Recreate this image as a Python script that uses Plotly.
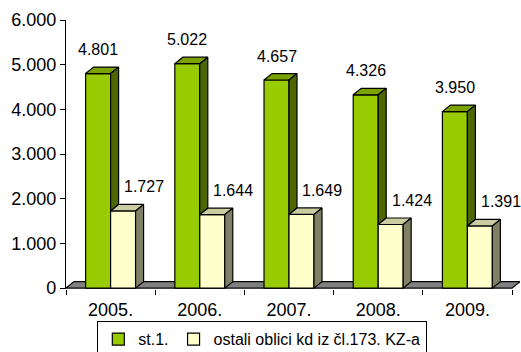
import plotly.graph_objects as go

# Data
years = ["2005.", "2006.", "2007.", "2008.", "2009."]
st1 = [4801, 5022, 4657, 4326, 3950]
ostali = [1727, 1644, 1649, 1424, 1391]
series_names = ["st.1.", "ostali oblici kd iz čl.173. KZ-a"]
y_ticks = [0, 1000, 2000, 3000, 4000, 5000, 6000]

# Styling / geometry of the pseudo-3D bars
FONT = "Liberation Sans, Arial, sans-serif"
GREEN = ("#99CC00", "#7AA300", "#4D6600")      # front, top, side
YELLOW = ("#FFFFCC", "#CCCCA3", "#808066")
FLOOR = "#808080"
BAR_W = 0.28          # width of one bar, in category units
DX = 0.0897           # depth offset along x (category units)
DY = 145              # depth offset along y (value units)
OUTLINE = dict(color="black", width=1.2)


def fmt(v):
    return f"{v:,}".replace(",", ".")


idx = list(range(len(years)))
fig = go.Figure()

# Front faces
fig.add_trace(go.Bar(x=idx, y=st1, width=BAR_W, offset=-BAR_W, name=series_names[0],
                     marker=dict(color=GREEN[0], line=OUTLINE), hoverinfo="skip"))
fig.add_trace(go.Bar(x=idx, y=ostali, width=BAR_W, offset=0, name=series_names[1],
                     marker=dict(color=YELLOW[0], line=OUTLINE), hoverinfo="skip"))


def polys(faces):
    xs, ys = [], []
    for pts in faces:
        for px, py in pts:
            xs.append(px)
            ys.append(py)
        xs.append(pts[0][0])
        ys.append(pts[0][1])
        xs.append(None)
        ys.append(None)
    return xs, ys


def top_face(xl, h):
    xr = xl + BAR_W
    return [(xl, h), (xr, h), (xr + DX, h + DY), (xl + DX, h + DY)]


def side_face(xr, base, h):
    return [(xr, base), (xr, h), (xr + DX, h + DY), (xr + DX, base + DY)]


g_top = [top_face(i - BAR_W, v) for i, v in zip(idx, st1)]
# only the part of the green side that rises above the neighbouring yellow bar
g_side = [side_face(i, o, v) for i, v, o in zip(idx, st1, ostali)]
y_top = [top_face(i, v) for i, v in zip(idx, ostali)]
y_side = [side_face(i + BAR_W, 0, v) for i, v in zip(idx, ostali)]

for faces, col in [(g_top, GREEN[1]), (g_side, GREEN[2]), (y_top, YELLOW[1]), (y_side, YELLOW[2])]:
    xs, ys = polys(faces)
    fig.add_trace(go.Scatter(x=xs, y=ys, mode="lines", fill="toself", fillcolor=col,
                             line=OUTLINE, showlegend=False, hoverinfo="skip"))

# helper trace for the overlaid label axis
fig.add_trace(go.Scatter(x=[0], y=[0], xaxis="x2", mode="markers",
                         marker=dict(opacity=0), showlegend=False, hoverinfo="skip"))

# Floor of the 3D box
n = len(years)
fig.add_shape(type="path", xref="x", yref="y", layer="below",
              path=(f"M {-0.5},0 L {n - 0.5},0 L {n - 0.5 + DX},{DY} "
                    f"L {-0.5 + DX},{DY} Z"),
              fillcolor=FLOOR, line=dict(color="black", width=1.2))

# Value labels
for i, v in zip(idx, st1):
    fig.add_annotation(x=i - BAR_W / 2, y=v, text=fmt(v), showarrow=False,
                       yshift=24, font=dict(family=FONT, size=16, color="black"))
for i, v in zip(idx, ostali):
    fig.add_annotation(x=i + BAR_W / 2, y=v, text=fmt(v), showarrow=False,
                       yshift=24, xshift=21, font=dict(family=FONT, size=16, color="black"))

xrange = [-0.5, n - 0.5 + DX]
fig.update_layout(
    width=521, height=352,
    margin=dict(l=66, r=1, t=20, b=63, autoexpand=False),
    paper_bgcolor="white", plot_bgcolor="rgba(0,0,0,0)",
    barmode="overlay",
    font=dict(family=FONT, size=17, color="black"),
    xaxis=dict(range=xrange, tickvals=[i - 0.5 for i in range(n + 1)],
               ticktext=[""] * (n + 1), ticks="outside", ticklen=5,
               tickwidth=1.2, tickcolor="black", showgrid=False, zeroline=False,
               showline=False, fixedrange=True),
    xaxis2=dict(overlaying="x", anchor="y", side="bottom", range=xrange,
                tickvals=idx, ticktext=years, ticks="", showgrid=False,
                zeroline=False, showline=False, tickfont=dict(size=18),
                ticklabelstandoff=8),
    yaxis=dict(range=[-20, 6000], tickvals=y_ticks, ticktext=[fmt(t) for t in y_ticks],
               ticks="outside", ticklen=5, tickwidth=1.2, tickcolor="black",
               showline=True, linecolor="black", linewidth=1.3, showgrid=False,
               zeroline=False, tickfont=dict(size=18)),
    legend=dict(orientation="h", x=0.432, xanchor="center", y=-0.119, yanchor="top",
                bordercolor="black", borderwidth=1.2, bgcolor="white",
                font=dict(size=16), traceorder="normal", itemwidth=30,
                tracegroupgap=0),
    showlegend=True,
)

fig.write_html("out.html")
